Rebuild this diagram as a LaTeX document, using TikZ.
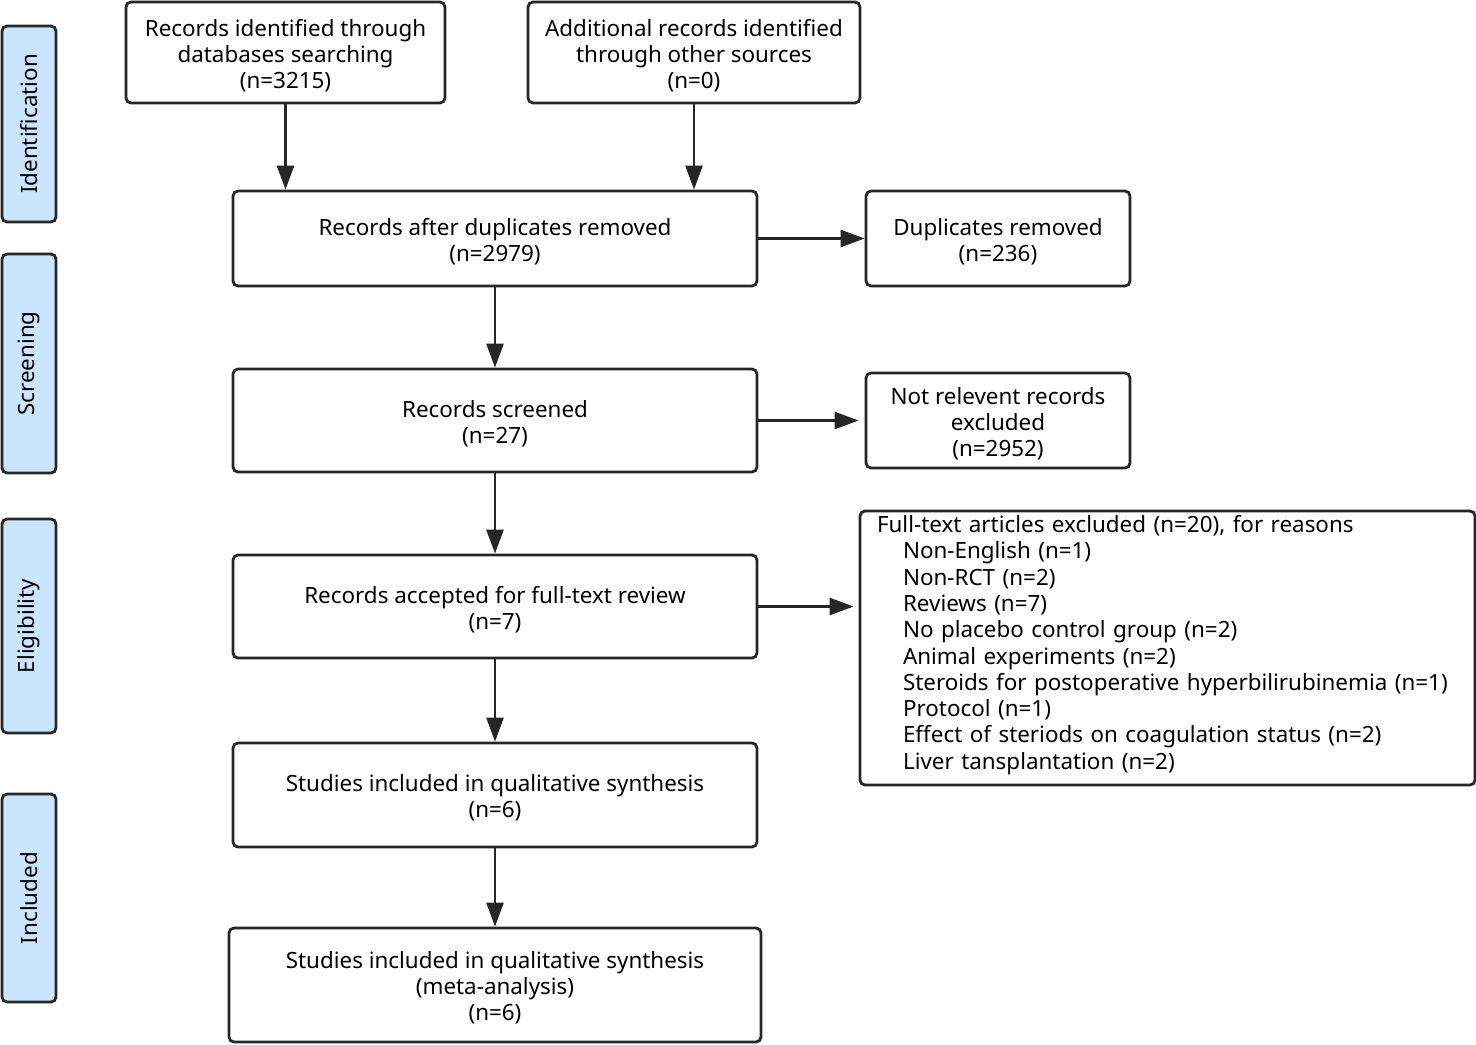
\documentclass[tikz,border=0pt]{standalone}
\usepackage{fontspec}
\setmainfont{Noto Sans}
\usetikzlibrary{arrows.meta}
\definecolor{sidefill}{HTML}{CCE5FF}
\definecolor{ink}{HTML}{262626}
\tikzset{
  box/.style={draw=ink, line width=1.4pt, rounded corners=2.5pt, align=center, inner sep=0pt, text=black, font=\fontsize{11.2}{13}\selectfont},
  side/.style={draw=ink, fill=sidefill, line width=1.4pt, rounded corners=2.5pt, inner sep=0pt, rotate=90, font=\fontsize{11.2}{13}\selectfont},
  arr/.style={draw=ink, line width=1.3pt, -{Triangle[length=12pt,width=8.5pt]}}
}
\newcommand\pbox[6]{\node[box, minimum width={(#4-#2)*0.5pt}, minimum height={(#5-#3)*0.5pt}] (#1) at ({(#2+#4)/2},{(#3+#5)/2}) {\rule{0pt}{11.5pt}#6};}
\newcommand\sidebox[4]{\node[side, minimum width={(#3-#2)*0.5pt}, minimum height={27pt}] (#1) at (29,{(#2+#3)/2}) {#4};}
\begin{document}
\begin{tikzpicture}[x=0.5pt,y=-0.5pt]
\useasboundingbox (0,0) rectangle (1476,1044);
\sidebox{sid}{26}{222}{Identification}
\sidebox{ssc}{254}{473}{Screening}
\sidebox{sel}{519}{733}{Eligibility}
\sidebox{sin}{794}{1002}{Included}
\pbox{A}{126}{2}{445}{103}{Records identified through\\databases searching\\(n=3215)}
\pbox{B}{528}{2}{860}{103}{Additional records identified\\through other sources\\(n=0)}
\pbox{C}{233}{191}{757}{286}{Records after duplicates removed\\(n=2979)}
\pbox{dup}{866}{191}{1130}{286}{Duplicates removed\\(n=236)}
\pbox{scr}{233}{369}{757}{472}{Records screened\\(n=27)}
\pbox{nr}{866}{373}{1130}{468}{Not relevent records\\excluded\\(n=2952)}
\pbox{acc}{233}{555}{757}{658}{Records accepted for full-text review\\(n=7)}
\node[box, align=left, minimum width=307.5pt, minimum height=137pt, text width=290.5pt, font=\fontsize{11.2}{13.15}\selectfont] (ft) at (1167.5,648) {Full-text articles excluded (n=20), for reasons\\
\hspace*{13pt}Non-English (n=1)\\
\hspace*{13pt}Non-RCT (n=2)\\
\hspace*{13pt}Reviews (n=7)\\
\hspace*{13pt}No placebo control group (n=2)\\
\hspace*{13pt}Animal experiments (n=2)\\
\hspace*{13pt}Steroids for postoperative hyperbilirubinemia (n=1)\\
\hspace*{13pt}Protocol (n=1)\\
\hspace*{13pt}Effect of steriods on coagulation status (n=2)\\
\hspace*{13pt}Liver tansplantation (n=2)\rule[-5.7pt]{0pt}{1pt}};
\pbox{qs}{233}{743}{757}{847}{Studies included in qualitative synthesis\\(n=6)}
\pbox{ma}{229}{928}{761}{1042}{Studies included in qualitative synthesis\\(meta-analysis)\\(n=6)}
\draw[arr] (A.south) -- (A.south |- C.north);
\draw[arr] (B.south) -- (B.south |- C.north);
\draw[arr] (C.south) -- (scr.north);
\draw[arr] (scr.south) -- (acc.north);
\draw[arr] (acc.south) -- (qs.north);
\draw[arr] (qs.south) -- (ma.north);
\draw[arr] (C.east) -- (C.east -| dup.west);
\draw[arr] (scr.east) -- ([xshift=-3pt]scr.east -| nr.west);
\draw[arr] (acc.east) -- ([xshift=-2.5pt]acc.east -| ft.west);
\end{tikzpicture}
\end{document}
